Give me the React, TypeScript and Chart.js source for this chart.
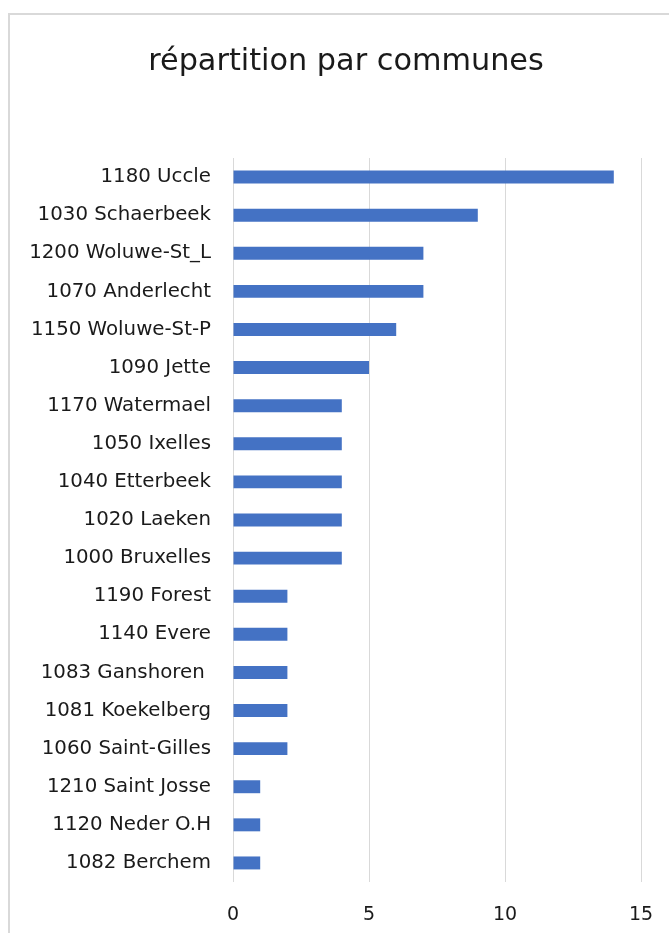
import React, { useEffect, useRef } from "react";
import { Chart, registerables } from "chart.js";

Chart.register(...registerables);

const communes = [
  "1180 Uccle",
  "1030 Schaerbeek",
  "1200 Woluwe-St_L",
  "1070 Anderlecht",
  "1150 Woluwe-St-P",
  "1090 Jette",
  "1170 Watermael",
  "1050 Ixelles",
  "1040 Etterbeek",
  "1020 Laeken",
  "1000 Bruxelles",
  "1190 Forest",
  "1140 Evere",
  "1083 Ganshoren ",
  "1081 Koekelberg",
  "1060 Saint-Gilles",
  "1210 Saint Josse",
  "1120 Neder O.H",
  "1082 Berchem",
];

const counts = [14, 9, 7, 7, 6, 5, 4, 4, 4, 4, 4, 2, 2, 2, 2, 2, 1, 1, 1];

const xTicks = [0, 5, 10, 15];

const chartTitle = "répartition par communes";

const FONT = "'DejaVu Sans', sans-serif";
const TEXT = "#1a1a1a";
const GRID = "#d9d9d9";
const BAR = "#4472C4";

// Frame lines and the chart heading
const framePlugin = {
  id: "frame",
  beforeDraw(chart: any) {
    const { ctx, width, height } = chart;
    ctx.save();
    ctx.fillStyle = "#ffffff";
    ctx.fillRect(0, 0, width, height);
    ctx.fillStyle = GRID;
    ctx.fillRect(8, 13, 2, height - 13);
    ctx.fillRect(8, 13, width - 8, 2);
    ctx.restore();
  },
  afterDraw(chart: any) {
    const { ctx } = chart;
    ctx.save();
    ctx.font = `30.3px ${FONT}`;
    ctx.fillStyle = TEXT;
    ctx.textAlign = "center";
    ctx.textBaseline = "alphabetic";
    ctx.fillText(chartTitle, 346, 70);
    ctx.restore();
  },
};

export default function App() {
  const ref = useRef<HTMLCanvasElement | null>(null);

  useEffect(() => {
    if (!ref.current) return;
    const chart = new Chart(ref.current, {
      type: "bar",
      data: {
        labels: communes,
        datasets: [
          {
            data: counts,
            backgroundColor: BAR,
            borderWidth: 0,
            barPercentage: 0.34,
            categoryPercentage: 1,
          },
        ],
      },
      options: {
        indexAxis: "y",
        responsive: false,
        animation: false,
        layout: { padding: { left: 0, top: 158, right: 28, bottom: 0 } },
        plugins: {
          legend: { display: false },
          title: { display: false },
          tooltip: { enabled: false },
        },
        scales: {
          x: {
            min: 0,
            max: 15,
            afterBuildTicks(scale: any) {
              scale.ticks = xTicks.map((v) => ({ value: v }));
            },
            afterFit(scale: any) {
              scale.height = 51;
              scale.paddingLeft = 0;
              scale.paddingRight = 0;
            },
            grid: { color: GRID, lineWidth: 1, drawTicks: false },
            border: { display: false },
            ticks: {
              padding: 22,
              color: TEXT,
              font: { family: FONT, size: 19 },
              maxRotation: 0,
            },
          },
          y: {
            afterFit(scale: any) {
              scale.width = 233;
              scale.paddingTop = 0;
              scale.paddingBottom = 0;
            },
            grid: { display: false, drawTicks: false },
            border: { display: false },
            ticks: {
              padding: 22,
              color: TEXT,
              font: { family: FONT, size: 19.8 },
              autoSkip: false,
            },
          },
        },
      },
      plugins: [framePlugin],
    });
    return () => chart.destroy();
  }, []);

  return (
    <div style={{ position: "fixed", left: 0, top: 0, width: 669, height: 933, overflow: "hidden" }}>
      <canvas ref={ref} width={669} height={933} style={{ display: "block" }} />
    </div>
  );
}
